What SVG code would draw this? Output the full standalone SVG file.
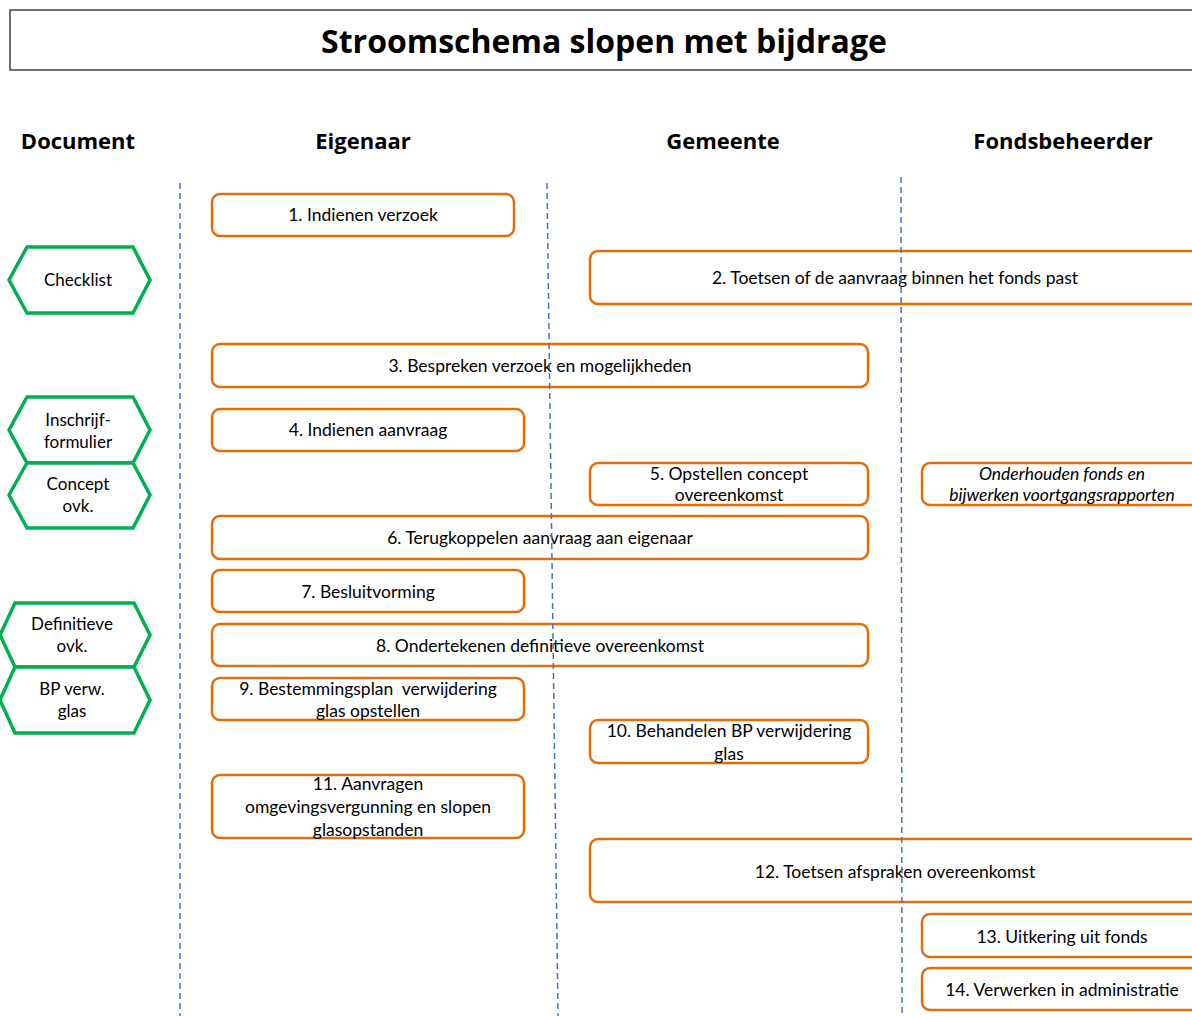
<svg xmlns="http://www.w3.org/2000/svg" width="1192" height="1016" viewBox="0 0 1192 1016">
<style>
.t{font-family:Lato,"Liberation Sans",sans-serif;font-size:17.5px;fill:#000;text-anchor:middle;dominant-baseline:central}
.d{font-size:17px}
.h{font-family:"Open Sans","Liberation Sans",sans-serif;font-size:22px;font-weight:bold;fill:#000;text-anchor:middle;dominant-baseline:central}
.box{fill:#fff;stroke:#E46C0A;stroke-width:2.5}
.hex{fill:#fff;stroke:#00B050;stroke-width:3.5;stroke-linejoin:miter}
.lane{stroke:#4472C4;stroke-width:1.5;stroke-dasharray:6 4;fill:none}
</style>
<rect width="1192" height="1016" fill="#fff"/>
<g id="title">
<rect x="10" y="10" width="1200" height="60" fill="#fff" stroke="#404040" stroke-width="1.5"/>
<text x="604" y="40" class="h" style="font-size:32px">Stroomschema slopen met bijdrage</text>
</g>
<g id="headers">
<text x="78" y="140" class="h">Document</text>
<text x="363" y="140" class="h">Eigenaar</text>
<text x="723" y="140" class="h">Gemeente</text>
<text x="1063" y="140" class="h">Fondsbeheerder</text>
</g>
<g id="doc-checklist"><polygon class="hex" points="9,280 27,247 133,247 150,280 133,313 27,313"/><text class="t d" x="78" y="279">Checklist</text></g>
<g id="doc-inschrijf"><polygon class="hex" points="9,430 27,397 133,397 150,430 133,463 27,463"/><text class="t d" x="78" y="419">Inschrijf-</text><text class="t d" x="78" y="441">formulier</text></g>
<g id="doc-concept"><polygon class="hex" points="9,495 27,463 133,463 150,495 133,528 27,528"/><text class="t d" x="78" y="483">Concept</text><text class="t d" x="78" y="505">ovk.</text></g>
<g id="doc-definitief"><polygon class="hex" points="0,635 15,603 134,603 150,635 134,667 15,667"/><text class="t d" x="72" y="623">Definitieve</text><text class="t d" x="72" y="645">ovk.</text></g>
<g id="doc-bp"><polygon class="hex" points="0,700 15,667 134,667 150,700 134,733 15,733"/><text class="t d" x="72" y="688">BP verw.</text><text class="t d" x="72" y="710">glas</text></g>
<g id="n1"><rect class="box" x="212" y="194" width="302" height="42" rx="8"/><text class="t" x="363" y="214">1. Indienen verzoek</text></g>
<g id="n2"><rect class="box" x="590" y="251" width="620" height="53" rx="8"/><text class="t" x="895" y="277">2. Toetsen of de aanvraag binnen het fonds past</text></g>
<g id="n3"><rect class="box" x="212" y="344" width="656" height="43" rx="8"/><text class="t" x="540" y="365">3. Bespreken verzoek en mogelijkheden</text></g>
<g id="n4"><rect class="box" x="212" y="409" width="312" height="42" rx="8"/><text class="t" x="368" y="429">4. Indienen aanvraag</text></g>
<g id="n5"><rect class="box" x="590" y="463" width="278" height="42" rx="8"/><text class="t" x="729" y="473">5. Opstellen concept</text><text class="t" x="729" y="494">overeenkomst</text></g>
<g id="nf"><rect class="box" x="922" y="463" width="290" height="42" rx="8"/><text class="t" x="1062" y="473" font-style="italic">Onderhouden fonds en</text><text class="t" x="1062" y="494" font-style="italic">bijwerken voortgangsrapporten</text></g>
<g id="n6"><rect class="box" x="212" y="516" width="656" height="43" rx="8"/><text class="t" x="540" y="537">6. Terugkoppelen aanvraag aan eigenaar</text></g>
<g id="n7"><rect class="box" x="212" y="570" width="312" height="42" rx="8"/><text class="t" x="368" y="591">7. Besluitvorming</text></g>
<g id="n8"><rect class="box" x="212" y="624" width="656" height="42" rx="8"/><text class="t" x="540" y="645">8. Ondertekenen definitieve overeenkomst</text></g>
<g id="n9"><rect class="box" x="212" y="678" width="312" height="42" rx="8"/><text class="t" x="368" y="688" style="white-space:pre">9. Bestemmingsplan  verwijdering</text><text class="t" x="368" y="710">glas opstellen</text></g>
<g id="n10"><rect class="box" x="590" y="720" width="278" height="43" rx="8"/><text class="t" x="729" y="730">10. Behandelen BP verwijdering</text><text class="t" x="729" y="753">glas</text></g>
<g id="n11"><rect class="box" x="212" y="775" width="312" height="63" rx="8"/><text class="t" x="368" y="783">11. Aanvragen</text><text class="t" x="368" y="806">omgevingsvergunning en slopen</text><text class="t" x="368" y="829">glasopstanden</text></g>
<g id="n12"><rect class="box" x="590" y="839" width="620" height="63" rx="8"/><text class="t" x="895" y="871">12. Toetsen afspraken overeenkomst</text></g>
<g id="n13"><rect class="box" x="922" y="914" width="290" height="43" rx="8"/><text class="t" x="1062" y="936">13. Uitkering uit fonds</text></g>
<g id="n14"><rect class="box" x="922" y="968" width="290" height="42" rx="8"/><text class="t" x="1062" y="989">14. Verwerken in administratie</text></g>
<g id="connectors">
<line class="lane" x1="180" y1="183" x2="180" y2="1016"/>
<line class="lane" x1="547" y1="183" x2="558" y2="1016"/>
<line class="lane" x1="901" y1="177" x2="902" y2="1016"/>
</g>
</svg>
